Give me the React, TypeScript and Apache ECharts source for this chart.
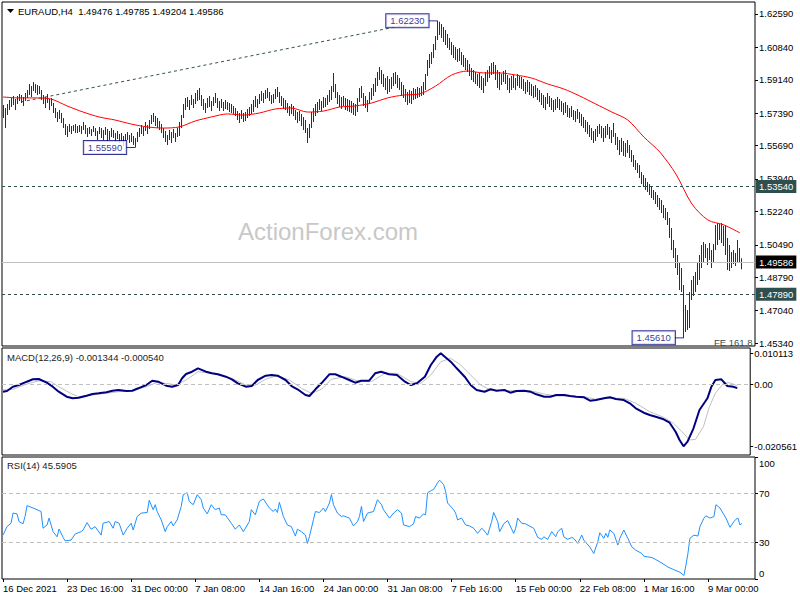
import React, { useEffect, useRef } from "react";
import * as echarts from "echarts";

const FONT = "'Liberation Sans', Arial, sans-serif";

const symbolTitle = "EURAUD,H4";
const lastOHLC = [1.49476, 1.49785, 1.49204, 1.49586];
const macdTitleValues = [-0.001344, -0.00054];
const rsiTitleValue = 45.5905;
const watermark = "ActionForex.com";
const feLabel = "FE 161.8";

const slotCount = 376;
const xLabelIndex = [0, 32, 64, 96, 128, 160, 192, 224, 256, 288, 320, 352];
const xLabelText = [
  "16 Dec 2021", "23 Dec 16:00", "31 Dec 00:00", "7 Jan 08:00", "14 Jan 16:00", "24 Jan 00:00",
  "31 Jan 08:00", "7 Feb 16:00", "15 Feb 00:00", "22 Feb 08:00", "1 Mar 16:00", "9 Mar 00:00",
];
const priceTicks = [1.6259, 1.6084, 1.5914, 1.5739, 1.5569, 1.5394, 1.5224, 1.5049, 1.4879, 1.4704, 1.4534];
const macdTicks = [0.010113, 0, -0.020561];
const rsiTicks = [100, 70, 30, 0];
const rsiLevels = [70, 30];
const levelLines = [1.5354, 1.4789];
const bidPrice = 1.49586;
const pivotPoints = [[66, 1.5559], [217, 1.6223], [340, 1.4561]];
const trendPoints = [[9, 1.5798], [205, 1.621]];

const barHigh = [
  1.5782, 1.5766, 1.5787, 1.5808, 1.5819, 1.5829, 1.5813, 1.5829, 1.5840, 1.5834,
  1.5824, 1.5845, 1.5861, 1.5892, 1.5881, 1.5902, 1.5892, 1.5887, 1.5881, 1.5861,
  1.5834, 1.5824, 1.5840, 1.5813, 1.5819, 1.5792, 1.5766, 1.5745, 1.5756, 1.5740,
  1.5714, 1.5682, 1.5672, 1.5682, 1.5672, 1.5677, 1.5682, 1.5672, 1.5677, 1.5672,
  1.5693, 1.5677, 1.5661, 1.5667, 1.5656, 1.5672, 1.5661, 1.5646, 1.5667, 1.5661,
  1.5651, 1.5667, 1.5656, 1.5646, 1.5661, 1.5651, 1.5635, 1.5646, 1.5630, 1.5635,
  1.5619, 1.5630, 1.5640, 1.5625, 1.5635, 1.5619, 1.5609, 1.5640, 1.5661, 1.5677,
  1.5667, 1.5693, 1.5677, 1.5703, 1.5729, 1.5740, 1.5724, 1.5714, 1.5698, 1.5682,
  1.5661, 1.5646, 1.5625, 1.5651, 1.5640, 1.5656, 1.5635, 1.5661, 1.5693, 1.5729,
  1.5787, 1.5819, 1.5824, 1.5808, 1.5834, 1.5813, 1.5845, 1.5861, 1.5871, 1.5834,
  1.5813, 1.5792, 1.5819, 1.5829, 1.5803, 1.5824, 1.5845, 1.5819, 1.5803, 1.5813,
  1.5798, 1.5808, 1.5798, 1.5792, 1.5787, 1.5777, 1.5766, 1.5750, 1.5740, 1.5756,
  1.5740, 1.5745, 1.5761, 1.5771, 1.5787, 1.5808, 1.5829, 1.5813, 1.5840, 1.5855,
  1.5845, 1.5861, 1.5871, 1.5850, 1.5834, 1.5840, 1.5866, 1.5876, 1.5850, 1.5829,
  1.5819, 1.5808, 1.5792, 1.5777, 1.5787, 1.5777, 1.5756, 1.5745, 1.5750, 1.5735,
  1.5719, 1.5703, 1.5661, 1.5682, 1.5745, 1.5766, 1.5787, 1.5798, 1.5813, 1.5803,
  1.5824, 1.5819, 1.5834, 1.5861, 1.5881, 1.5950, 1.5892, 1.5850, 1.5834, 1.5824,
  1.5829, 1.5819, 1.5813, 1.5808, 1.5803, 1.5792, 1.5787, 1.5819, 1.5871, 1.5881,
  1.5845, 1.5829, 1.5808, 1.5850, 1.5871, 1.5892, 1.5923, 1.5955, 1.5981, 1.5965,
  1.5944, 1.5923, 1.5934, 1.5918, 1.5929, 1.5950, 1.5955, 1.5939, 1.5923, 1.5902,
  1.5887, 1.5866, 1.5850, 1.5861, 1.5855, 1.5871, 1.5866, 1.5876, 1.5871, 1.5881,
  1.5902, 1.5944, 1.6018, 1.6049, 1.6060, 1.6102, 1.6144, 1.6223, 1.6218, 1.6207,
  1.6191, 1.6175, 1.6154, 1.6133, 1.6112, 1.6097, 1.6086, 1.6076, 1.6081, 1.6060,
  1.6044, 1.6028, 1.6018, 1.5997, 1.5976, 1.5965, 1.5955, 1.5944, 1.5950, 1.5934,
  1.5923, 1.5955, 1.5965, 1.5986, 1.6002, 1.6007, 1.5992, 1.5965, 1.5955, 1.5944,
  1.5960, 1.5965, 1.5939, 1.5923, 1.5934, 1.5939, 1.5923, 1.5944, 1.5934, 1.5929,
  1.5918, 1.5902, 1.5913, 1.5902, 1.5892, 1.5881, 1.5887, 1.5871, 1.5861, 1.5845,
  1.5834, 1.5824, 1.5845, 1.5829, 1.5819, 1.5808, 1.5813, 1.5824, 1.5813, 1.5803,
  1.5792, 1.5798, 1.5782, 1.5766, 1.5777, 1.5756, 1.5750, 1.5761, 1.5745, 1.5735,
  1.5719, 1.5703, 1.5693, 1.5677, 1.5661, 1.5646, 1.5656, 1.5672, 1.5682, 1.5672,
  1.5661, 1.5672, 1.5682, 1.5667, 1.5651, 1.5688, 1.5635, 1.5614, 1.5598, 1.5609,
  1.5593, 1.5583, 1.5598, 1.5572, 1.5546, 1.5520, 1.5494, 1.5478, 1.5467, 1.5431,
  1.5415, 1.5399, 1.5378, 1.5368, 1.5352, 1.5336, 1.5326, 1.5310, 1.5294, 1.5284,
  1.5258, 1.5242, 1.5221, 1.5189, 1.5137, 1.5074, 1.5032, 1.4995, 1.4959, 1.4927,
  1.4838, 1.4733, 1.4707, 1.4801, 1.4864, 1.4885, 1.4906, 1.4959, 1.4995, 1.5048,
  1.5064, 1.5053, 1.5032, 1.5058, 1.5022, 1.5053, 1.5153, 1.5163, 1.5158, 1.5163,
  1.5148, 1.5153, 1.5085, 1.5048, 1.5011, 1.5022, 1.5006, 1.5074, 1.5032, 1.49785,
];

const barLow = [
  1.5714, 1.5661, 1.5729, 1.5756, 1.5771, 1.5782, 1.5756, 1.5787, 1.5803, 1.5792,
  1.5777, 1.5803, 1.5819, 1.5834, 1.5824, 1.5855, 1.5845, 1.5834, 1.5840, 1.5808,
  1.5787, 1.5766, 1.5792, 1.5756, 1.5777, 1.5740, 1.5714, 1.5693, 1.5709, 1.5688,
  1.5661, 1.5625, 1.5614, 1.5640, 1.5630, 1.5646, 1.5635, 1.5635, 1.5640, 1.5630,
  1.5651, 1.5630, 1.5614, 1.5630, 1.5619, 1.5640, 1.5619, 1.5598, 1.5630, 1.5609,
  1.5598, 1.5625, 1.5593, 1.5598, 1.5614, 1.5609, 1.5588, 1.5604, 1.5583, 1.5593,
  1.5567, 1.5588, 1.5598, 1.5583, 1.5588, 1.5572, 1.5559, 1.5588, 1.5614, 1.5630,
  1.5619, 1.5646, 1.5630, 1.5656, 1.5682, 1.5693, 1.5672, 1.5661, 1.5651, 1.5635,
  1.5609, 1.5588, 1.5572, 1.5598, 1.5583, 1.5609, 1.5588, 1.5614, 1.5619, 1.5661,
  1.5714, 1.5756, 1.5771, 1.5756, 1.5782, 1.5766, 1.5787, 1.5803, 1.5808, 1.5777,
  1.5756, 1.5740, 1.5766, 1.5771, 1.5750, 1.5777, 1.5792, 1.5766, 1.5750, 1.5766,
  1.5750, 1.5761, 1.5756, 1.5745, 1.5740, 1.5735, 1.5724, 1.5703, 1.5688, 1.5709,
  1.5693, 1.5698, 1.5714, 1.5724, 1.5735, 1.5745, 1.5771, 1.5766, 1.5787, 1.5803,
  1.5792, 1.5813, 1.5819, 1.5803, 1.5787, 1.5792, 1.5813, 1.5824, 1.5792, 1.5777,
  1.5761, 1.5756, 1.5740, 1.5724, 1.5735, 1.5724, 1.5703, 1.5688, 1.5698, 1.5672,
  1.5651, 1.5635, 1.5583, 1.5609, 1.5661, 1.5693, 1.5724, 1.5740, 1.5756, 1.5750,
  1.5766, 1.5771, 1.5782, 1.5798, 1.5808, 1.5850, 1.5819, 1.5787, 1.5771, 1.5761,
  1.5777, 1.5756, 1.5750, 1.5745, 1.5740, 1.5729, 1.5724, 1.5745, 1.5798, 1.5819,
  1.5777, 1.5766, 1.5745, 1.5787, 1.5808, 1.5829, 1.5850, 1.5881, 1.5913, 1.5892,
  1.5876, 1.5861, 1.5840, 1.5850, 1.5866, 1.5881, 1.5892, 1.5871, 1.5861, 1.5829,
  1.5819, 1.5798, 1.5782, 1.5792, 1.5787, 1.5808, 1.5813, 1.5819, 1.5824, 1.5829,
  1.5834, 1.5861, 1.5934, 1.5976, 1.5997, 1.6028, 1.6070, 1.6123, 1.6149, 1.6133,
  1.6112, 1.6097, 1.6081, 1.6070, 1.6044, 1.6028, 1.6018, 1.6007, 1.6012, 1.5992,
  1.5981, 1.5965, 1.5955, 1.5934, 1.5913, 1.5902, 1.5892, 1.5881, 1.5871, 1.5861,
  1.5845, 1.5881, 1.5902, 1.5923, 1.5939, 1.5944, 1.5913, 1.5871, 1.5861, 1.5887,
  1.5902, 1.5892, 1.5861, 1.5845, 1.5861, 1.5871, 1.5861, 1.5881, 1.5871, 1.5866,
  1.5855, 1.5840, 1.5850, 1.5834, 1.5829, 1.5819, 1.5824, 1.5808, 1.5798, 1.5782,
  1.5766, 1.5756, 1.5787, 1.5771, 1.5756, 1.5745, 1.5756, 1.5766, 1.5756, 1.5745,
  1.5729, 1.5740, 1.5719, 1.5714, 1.5719, 1.5703, 1.5693, 1.5709, 1.5688, 1.5672,
  1.5661, 1.5640, 1.5630, 1.5614, 1.5598, 1.5583, 1.5593, 1.5614, 1.5630, 1.5609,
  1.5588, 1.5609, 1.5625, 1.5604, 1.5583, 1.5614, 1.5572, 1.5546, 1.5520, 1.5535,
  1.5515, 1.5509, 1.5530, 1.5504, 1.5483, 1.5457, 1.5441, 1.5425, 1.5399, 1.5368,
  1.5352, 1.5336, 1.5326, 1.5310, 1.5294, 1.5284, 1.5263, 1.5247, 1.5231, 1.5216,
  1.5189, 1.5179, 1.5153, 1.5085, 1.5022, 1.4980, 1.4927, 1.4891, 1.4812, 1.4801,
  1.4561, 1.4592, 1.4602, 1.4613, 1.4760, 1.4781, 1.4801, 1.4838, 1.4864, 1.4927,
  1.4959, 1.4980, 1.4943, 1.4969, 1.4927, 1.4959, 1.5022, 1.5048, 1.5074, 1.5058,
  1.5043, 1.4995, 1.4917, 1.4912, 1.4927, 1.4948, 1.4938, 1.4959, 1.4959, 1.49204,
];

const maStep = 8;
const maValues = [
  1.5824, 1.5819, 1.5819, 1.5813, 1.5777, 1.5745, 1.5719, 1.5703, 1.5682, 1.5667,
  1.5661, 1.5667, 1.5698, 1.5719, 1.5735, 1.5729, 1.5740, 1.5761, 1.5766, 1.5745,
  1.5750, 1.5771, 1.5777, 1.5792, 1.5819, 1.5834, 1.5840, 1.5881, 1.5939, 1.5960,
  1.5950, 1.5950, 1.5939, 1.5923, 1.5892, 1.5866, 1.5829, 1.5787, 1.5745, 1.5703,
  1.5614, 1.5535, 1.5420, 1.5263, 1.5179, 1.5153, 1.5111,
];

const macdPoints = [
  [0, -0.00254], [2, -0.00231], [5, -0.00089], [8, -0.00033], [12, 0.00076], [15, 0.00155], [18, 0.00165], [22, 0.00043], [25, -0.00089], [28, -0.00254],
  [32, -0.00419], [35, -0.00472], [38, -0.00452], [42, -0.00386], [45, -0.0033], [48, -0.00307], [52, -0.00274], [55, -0.00221], [58, -0.00198], [62, -0.00231],
  [65, -0.00221], [68, -0.00142], [72, -0.00033], [75, 0.00109], [78, 0.00076], [82, -0.00056], [85, -0.00089], [88, -0.00033], [90, 0.00188], [92, 0.0033],
  [95, 0.00406], [98, 0.00518], [102, 0.00406], [105, 0.00353], [108, 0.0032], [112, 0.00241], [115, 0.00155], [118, 0.00023], [122, -0.00089], [125, -0.00066],
  [128, 0.00132], [132, 0.00274], [135, 0.00297], [138, 0.00274], [142, 0.00132], [145, -0.00066], [148, -0.00175], [152, -0.00363], [154, -0.00396], [157, -0.00175],
  [160, 0.00023], [164, 0.0032], [167, 0.0032], [170, 0.00241], [174, 0.00132], [177, 0.00043], [180, 0.00109], [184, 0.00109], [187, 0.00353], [190, 0.00406],
  [194, 0.0032], [198, 0.00297], [202, 0.00076], [205, -0.00033], [208, 0.00023], [212, 0.00241], [215, 0.00627], [218, 0.00901], [220, 0.010113], [222, 0.00901],
  [225, 0.00736], [228, 0.00518], [232, 0.00241], [235, -0.00033], [238, -0.00198], [242, -0.00254], [245, -0.00175], [248, -0.00221], [252, -0.00198], [255, -0.00287],
  [258, -0.00231], [262, -0.00221], [265, -0.00254], [268, -0.0034], [272, -0.00419], [275, -0.00419], [278, -0.00363], [282, -0.00363], [285, -0.00396], [288, -0.00419],
  [292, -0.00439], [295, -0.00551], [298, -0.00528], [302, -0.00472], [305, -0.00439], [308, -0.00495], [312, -0.00528], [315, -0.00637], [318, -0.00802], [322, -0.00947],
  [325, -0.01023], [328, -0.01079], [332, -0.01165], [335, -0.01277], [338, -0.01574], [340, -0.01848], [342, -0.020561], [344, -0.01904], [347, -0.01462], [350, -0.00858],
  [354, -0.00472], [356, -0.00089], [358, 0.00132], [361, 0.00155], [364, -0.00066], [367, -0.00089], [369, -0.001344],
];

const signalPoints = [
  [0, -0.00198], [5, -0.00175], [12, 0], [18, 0.00109], [24, 0.00076], [28, -0.00089], [34, -0.00307], [38, -0.00419], [45, -0.00363], [52, -0.00307],
  [58, -0.00254], [65, -0.00221], [72, -0.00089], [77, 0.00043], [82, 0.00023], [87, -0.00033], [92, 0.00132], [98, 0.00406], [105, 0.00353], [115, 0.00188],
  [122, -0.00033], [127, -0.00033], [132, 0.00155], [137, 0.00264], [144, 0.00132], [150, -0.00142], [155, -0.00307], [160, -0.00175], [165, 0.00155], [172, 0.00241],
  [178, 0.00109], [185, 0.00076], [192, 0.00353], [198, 0.00353], [205, 0.00076], [210, 0.00023], [215, 0.00297], [220, 0.00736], [225, 0.00848], [230, 0.00627],
  [235, 0.00297], [240, -0.00033], [245, -0.00198], [252, -0.00221], [258, -0.00221], [265, -0.00221], [272, -0.0033], [278, -0.00396], [285, -0.00396], [292, -0.00419],
  [298, -0.00505], [305, -0.00472], [312, -0.00472], [318, -0.00637], [325, -0.00914], [332, -0.01099], [337, -0.01297], [342, -0.01627], [345, -0.01848], [348, -0.01825],
  [352, -0.01409], [355, -0.00749], [358, -0.00307], [362, 0.00023], [365, 0.00043], [369, -0.00054],
];

const rsiPoints = [
  [0, 36.0], [2, 42.9], [4, 45.7], [5, 54.0], [7, 53.4], [8, 47.1], [10, 45.2], [11, 51.2], [12, 60.1], [15, 58.2],
  [17, 56.8], [19, 55.3], [20, 41.6], [22, 44.3], [23, 49.9], [25, 38.8], [27, 34.6], [28, 41.0], [30, 34.1], [31, 31.3],
  [34, 31.9], [36, 36.9], [39, 38.8], [40, 40.2], [42, 46.2], [44, 40.8], [46, 42.9], [49, 36.0], [50, 45.7], [53, 47.1],
  [55, 41.6], [56, 47.1], [58, 45.7], [60, 36.0], [62, 41.6], [64, 45.7], [65, 40.2], [67, 51.2], [69, 54.0], [72, 54.5],
  [73, 64.5], [75, 56.8], [76, 60.9], [77, 55.3], [79, 48.5], [81, 38.8], [82, 42.9], [84, 47.1], [85, 43.5], [87, 48.5],
  [89, 59.5], [90, 69.2], [92, 70.6], [93, 63.6], [95, 60.9], [97, 69.2], [99, 65.0], [100, 58.2], [102, 53.4], [104, 60.9],
  [106, 56.8], [108, 58.2], [109, 52.6], [111, 52.6], [114, 45.7], [116, 40.8], [118, 44.3], [120, 38.8], [123, 47.1], [124, 56.8],
  [126, 52.6], [128, 63.6], [130, 65.6], [133, 58.2], [135, 55.3], [136, 57.3], [137, 54.5], [138, 62.8], [140, 51.2], [142, 44.3],
  [144, 42.9], [146, 35.2], [147, 40.8], [149, 38.8], [151, 36.0], [152, 29.2], [153, 34.6], [155, 48.5], [156, 55.3], [158, 54.5],
  [160, 58.2], [161, 55.3], [163, 62.3], [164, 69.2], [165, 60.9], [167, 54.0], [169, 51.2], [170, 51.8], [173, 49.9], [175, 43.5],
  [177, 47.1], [178, 51.2], [179, 59.5], [180, 47.1], [182, 54.0], [185, 55.3], [187, 65.0], [189, 60.9], [190, 56.8], [193, 49.9],
  [195, 54.0], [197, 56.8], [199, 54.0], [200, 44.3], [203, 42.9], [205, 45.2], [206, 51.2], [208, 49.9], [210, 53.4], [211, 52.6],
  [212, 70.6], [214, 72.7], [215, 73.3], [217, 78.9], [218, 81.0], [220, 77.5], [221, 71.9], [222, 62.3], [225, 56.8], [226, 54.0],
  [227, 48.5], [229, 49.9], [231, 44.3], [233, 43.5], [235, 41.6], [237, 37.4], [239, 41.6], [240, 40.2], [242, 36.0], [243, 41.6],
  [244, 47.1], [245, 54.5], [247, 47.1], [248, 38.8], [250, 45.2], [252, 47.9], [255, 37.4], [256, 41.6], [257, 49.9], [259, 45.7],
  [261, 45.2], [264, 42.4], [265, 41.6], [267, 34.1], [269, 32.5], [270, 34.6], [272, 32.5], [274, 38.8], [276, 34.6], [277, 38.8],
  [279, 41.6], [280, 34.6], [282, 32.5], [284, 34.1], [285, 33.3], [287, 29.2], [289, 36.0], [290, 31.9], [293, 26.3], [295, 20.9],
  [297, 30.5], [298, 37.9], [300, 33.3], [301, 37.4], [302, 34.1], [303, 40.2], [305, 37.4], [307, 27.8], [308, 33.3], [310, 40.2],
  [312, 33.3], [314, 26.3], [316, 23.6], [319, 20.9], [320, 18.6], [322, 18.1], [324, 17.6], [326, 15.9], [329, 13.1], [332, 9.8],
  [335, 7.6], [338, 5.6], [340, 2.9], [341, 11.2], [342, 20.9], [343, 33.3], [345, 36.0], [347, 35.2], [348, 42.9], [350, 49.9],
  [351, 51.8], [353, 49.9], [355, 51.2], [356, 60.9], [358, 58.2], [360, 52.6], [361, 49.9], [363, 42.4], [365, 47.1], [366, 49.0],
  [367, 49.9], [368, 44.3], [369, 45.5905],
];

export default function App() {
  const ref = useRef<HTMLDivElement>(null);

  useEffect(() => {
    const chart = echarts.init(ref.current!, undefined, { renderer: "svg" });
    const cats = Array.from({ length: slotCount }, (_, i) => String(i));
    const labelMap = new Map<number, string>(xLabelIndex.map((k, j) => [k, xLabelText[j]]));
    const showLabel = (idx: number) => labelMap.has(idx);
    const barColor = "#163550";
    const slate = "#2f4f4f";
    const txt = { fontFamily: FONT, fontSize: 9.5, color: "#000" };

    const mainTitle = `${symbolTitle}  ${lastOHLC.map((v) => v.toFixed(5)).join(" ")}`;
    const macdTitle = `MACD(12,26,9) ${macdTitleValues.map((v) => v.toFixed(6)).join(" ")}`;
    const rsiTitle = `RSI(14) ${rsiTitleValue.toFixed(4)}`;

    const gridBase = { show: true, borderColor: "#000", borderWidth: 1, backgroundColor: "#fff", left: 2, right: 45 };
    const hiddenX = (g: number) => ({
      type: "category", gridIndex: g, data: cats, boundaryGap: true, show: false,
    });

    const option: any = {
      animation: false,
      backgroundColor: "#fff",
      grid: [
        { ...gridBase, top: 2, height: 344 },
        { ...gridBase, top: 348, height: 107 },
        { ...gridBase, top: 457, height: 122 },
      ],
      xAxis: [
        hiddenX(0),
        hiddenX(1),
        {
          type: "category", gridIndex: 2, data: cats, boundaryGap: true,
          axisLine: { show: false },
          axisTick: { show: true, alignWithLabel: true, interval: (idx: number) => showLabel(idx), length: 3, lineStyle: { color: "#000" } },
          axisLabel: {
            ...txt, interval: (idx: number) => showLabel(idx), formatter: (_v: string, idx: number) => labelMap.get(idx) || "",
            align: "left", margin: 4,
          },
          splitLine: { show: false },
        },
      ],
      yAxis: [
        {
          type: "value", gridIndex: 0, position: "right", min: 1.45183, max: 1.63219,
          splitLine: { show: false }, axisLine: { show: false },
          axisTick: { show: true, customValues: priceTicks, length: 3, lineStyle: { color: "#000" } },
          axisLabel: { ...txt, customValues: priceTicks, formatter: (v: number) => v.toFixed(5), margin: 4 },
        },
        {
          type: "value", gridIndex: 1, position: "right", min: -0.02343, max: 0.01188,
          splitLine: { show: false }, axisLine: { show: false },
          axisTick: { show: true, customValues: macdTicks, length: 3, lineStyle: { color: "#000" } },
          axisLabel: { ...txt, customValues: macdTicks, formatter: (v: number) => (Math.abs(v) < 1e-9 ? "0.00" : v.toFixed(6)), margin: 4 },
        },
        {
          type: "value", gridIndex: 2, position: "right", min: 0, max: 100,
          splitLine: { show: false }, axisLine: { show: false },
          axisTick: { show: true, customValues: rsiTicks, length: 3, lineStyle: { color: "#000" } },
          axisLabel: {
            ...txt, customValues: rsiTicks, margin: 4,
            formatter: (v: number) => (v >= 100 ? "{d|100}" : v <= 0 ? "{u|0}" : String(v)),
            rich: {
              d: { ...txt, padding: [12, 0, 0, 0] },
              u: { ...txt, padding: [0, 0, 12, 0] },
            },
          },
        },
      ],
      graphic: [
        { type: "text", x: 238, y: 231, z: 1, style: { text: watermark, fill: "#c8c8c8", fontSize: 24, fontFamily: FONT, verticalAlign: "middle" } },
        { type: "polygon", z: 50, shape: { points: [[7, 9], [14, 9], [10.5, 13]] }, style: { fill: "#000" } },
        { type: "text", x: 18, y: 11, z: 50, style: { text: mainTitle, fill: "#000", fontSize: 9.5, fontFamily: FONT, verticalAlign: "middle" } },
        { type: "text", x: 7, y: 357, z: 50, style: { text: macdTitle, fill: "#222", fontSize: 9.5, fontFamily: FONT, verticalAlign: "middle" } },
        { type: "text", x: 7, y: 465, z: 50, style: { text: rsiTitle, fill: "#222", fontSize: 9.5, fontFamily: FONT, verticalAlign: "middle" } },
        { type: "text", x: 714, y: 347, z: 50, style: { text: feLabel, fill: slate, fontSize: 9.5, fontFamily: FONT, verticalAlign: "bottom" } },
      ],
      series: [
        {
          name: "trend", type: "line", xAxisIndex: 0, yAxisIndex: 0, data: trendPoints,
          symbol: "none", lineStyle: { color: slate, width: 1, type: [3, 3] }, z: 2, silent: true,
        },
        {
          name: "bars", type: "custom", xAxisIndex: 0, yAxisIndex: 0, z: 3,
          data: barHigh.map((h, i) => [i, h, barLow[i]]),
          encode: { x: 0, y: [1, 2] },
          renderItem: (_p: any, api: any) => {
            const i = api.value(0);
            const top = api.coord([i, api.value(1)]);
            const bot = api.coord([i, api.value(2)]);
            return {
              type: "rect",
              shape: { x: Math.floor(top[0]), y: top[1], width: 1, height: Math.max(1, bot[1] - top[1]) },
              style: { fill: barColor },
            };
          },
        },
        {
          name: "MA", type: "line", xAxisIndex: 0, yAxisIndex: 0, z: 4,
          data: maValues.map((v, k) => [k * maStep, v]),
          symbol: "none", smooth: 0.3, lineStyle: { color: "#ff0000", width: 1 },
          markLine: {
            silent: true, symbol: ["none", "none"], animation: false, precision: 5,
            data: [
              ...levelLines.map((v) => ({
                yAxis: v,
                lineStyle: { color: slate, width: 1, type: [3, 3] },
                label: { show: true, position: "end", distance: 1, formatter: v.toFixed(5), backgroundColor: slate, color: "#fff", padding: [2, 3, 1, 3], fontSize: 9.5, fontFamily: FONT },
              })),
              {
                yAxis: bidPrice,
                lineStyle: { color: "#c0c0c0", width: 1, type: "solid" },
                label: { show: true, position: "end", distance: 1, formatter: bidPrice.toFixed(5), backgroundColor: "#000", color: "#fff", padding: [2, 3, 1, 3], fontSize: 9.5, fontFamily: FONT },
              },
            ],
          },
        },
        {
          name: "pivots", type: "scatter", xAxisIndex: 0, yAxisIndex: 0, z: 6,
          data: pivotPoints,
          symbol: "rect", symbolSize: [9, 1], symbolOffset: [-4.5, 0],
          itemStyle: { color: "#000080" },
          label: {
            show: true, position: "left", distance: 0,
            formatter: (p: any) => p.value[1].toFixed(5),
            color: "#000080", fontSize: 9.5, fontFamily: FONT,
            backgroundColor: "#fff", borderColor: "#000080", borderWidth: 1, padding: [2, 4, 1, 4],
          },
        },
        {
          name: "Signal", type: "line", xAxisIndex: 1, yAxisIndex: 1, z: 3,
          data: signalPoints, symbol: "none", lineStyle: { color: "#c0c0c0", width: 1 },
          markLine: {
            silent: true, symbol: ["none", "none"], label: { show: false }, precision: 6,
            data: [{ yAxis: 0 }], lineStyle: { color: "#c0c0c0", width: 1, type: [4, 3] },
          },
        },
        {
          name: "MACD", type: "line", xAxisIndex: 1, yAxisIndex: 1, z: 4,
          data: macdPoints, symbol: "none", lineStyle: { color: "#000080", width: 2 },
        },
        {
          name: "RSI", type: "line", xAxisIndex: 2, yAxisIndex: 2, z: 4,
          data: rsiPoints, symbol: "none", lineStyle: { color: "#1e90ff", width: 1 },
          markLine: {
            silent: true, symbol: ["none", "none"], label: { show: false },
            data: rsiLevels.map((v) => ({ yAxis: v })), lineStyle: { color: "#c0c0c0", width: 1, type: [4, 3] },
          },
        },
      ],
    };

    chart.setOption(option);
    return () => chart.dispose();
  }, []);

  return (
    <div
      ref={ref}
      style={{ position: "fixed", left: 0, top: 0, width: 800, height: 600, background: "#fff" }}
    />
  );
}
